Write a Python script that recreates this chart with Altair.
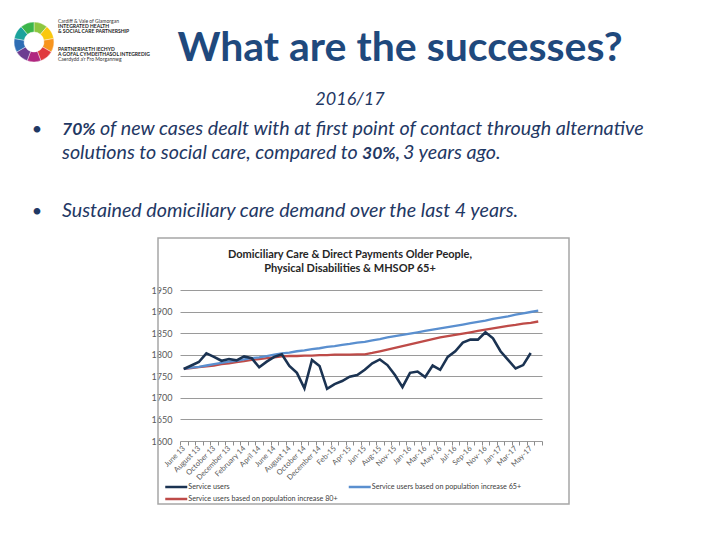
import json
import altair as alt
import pandas as pd

# ---------------- data ----------------
months = ["June 13", "July 13", "August 13", "September 13", "October 13", "November 13",
          "December 13", "January 14", "February 14", "March 14", "April 14", "May 14",
          "June 14", "July 14", "August 14", "September 14", "October 14", "November 14",
          "December 14", "Jan-15", "Feb-15", "Mar-15", "Apr-15", "May-15", "Jun-15", "Jul-15",
          "Aug-15", "Oct-15", "Nov-15", "Dec-15", "Jan-16", "Feb-16", "Mar-16", "Apr-16",
          "May-16", "Jun-16", "Jul-16", "Aug-16", "Sep-16", "Oct-16", "Nov-16", "Dec-16",
          "Jan-17", "Feb-17", "Mar-17", "Apr-17", "May-17", "Jun-17"]

service_users = [1767, 1775, 1783, 1803, 1795, 1786, 1790, 1787, 1796, 1792, 1771, 1784,
                 1795, 1801, 1774, 1758, 1722, 1788, 1774, 1721, 1732, 1739, 1749, 1753,
                 1765, 1780, 1789, 1776, 1753, 1725, 1758, 1761, 1748, 1775, 1765, 1795,
                 1808, 1828, 1835, 1835, 1852, 1838, 1808, 1788, 1768, 1776, 1804, None]

pop_65 = [1767, 1770, 1772, 1775, 1778, 1781, 1784, 1786, 1789, 1792, 1794, 1797,
          1800, 1803, 1805, 1808, 1810, 1813, 1815, 1818, 1820, 1823, 1825, 1828,
          1830, 1833, 1836, 1840, 1843, 1846, 1849, 1852, 1855, 1858, 1861, 1864,
          1867, 1870, 1873, 1876, 1879, 1883, 1886, 1889, 1893, 1896, 1899, 1902]

pop_80 = [1767, 1769, 1771, 1773, 1775, 1778, 1780, 1783, 1785, 1788, 1790, 1792,
          1794, 1796, 1797, 1797, 1798, 1798, 1799, 1799, 1800, 1800, 1800, 1801,
          1801, 1804, 1808, 1812, 1816, 1820, 1824, 1828, 1832, 1836, 1840, 1843,
          1846, 1849, 1852, 1855, 1858, 1861, 1864, 1867, 1869, 1872, 1874, 1877]

SU = "Service users"
P65 = "Service users based on population increase 65+"
P80 = "Service users based on population increase 80+"
# legend fills column by column: [SU, P80] in column 1, [P65] in column 2
legend_order = [SU, P80, P65]
legend_colors = ["#1b3352", "#be4b48", "#5a8fcf"]

logo_colors = ["#8DC63F", "#F9C80E", "#F7941D", "#E03A3E", "#B0267F",
               "#6C3D91", "#2E6DB4", "#1BA39C", "#3BB54A"]
logo_parts = [1, 1, 1, 1, 1, 1, 1, 1, 1]

rows = []
for name, vals in zip([SU, P65, P80], [service_users, pop_65, pop_80]):
    for i, (m, v) in enumerate(zip(months, vals)):
        if v is not None:
            rows.append({"idx": i, "month": m, "series": name, "value": v})
df = pd.DataFrame(rows)

logo_df = pd.DataFrame({"k": list(range(len(logo_colors))), "v": logo_parts, "c": logo_colors})
one = pd.DataFrame({"a": [0]})

# ---------------- chart ----------------
FONT = "Lato"
label_js = json.dumps(months)
label_expr = (f"(round(datum.value + 0.5) % 2 == 0 && round(datum.value + 0.5) < {len(months)}) "
              f"? {label_js}[round(datum.value + 0.5)] : ''")

x_enc = alt.X("idx:Q",
              scale=alt.Scale(domain=[-0.5, len(months) - 0.5], nice=False, zero=False),
              axis=alt.Axis(values=[i - 0.5 for i in range(len(months) + 1)],
                            labelExpr=label_expr, labelOffset=3.77, labelAngle=-45,
                            labelAlign="right", labelBaseline="middle", labelFlush=False,
                            labelOverlap=False, labelFont=FONT, labelFontSize=7.5,
                            labelColor="#595959", labelPadding=2, tickSize=4,
                            tickColor="#8c8c8c", domain=False, grid=False, title=None))
y_enc = alt.Y("value:Q",
              scale=alt.Scale(domain=[1600, 1950], nice=False, zero=False),
              axis=alt.Axis(values=list(range(1600, 1951, 50)), format="d", grid=True,
                            gridColor="#9a9a9a", gridWidth=1, domain=False, ticks=False,
                            labelPadding=8, labelFont=FONT, labelFontSize=9,
                            labelColor="#595959", title=None))
c_enc = alt.Color("series:N",
                  scale=alt.Scale(domain=legend_order, range=legend_colors),
                  legend=alt.Legend(orient="none", legendX=-10.75, legendY=190, columns=2,
                                    symbolType="M-2,0H2", symbolSize=121, symbolStrokeWidth=2.5,
                                    labelFont=FONT, labelFontSize=7.2, labelColor="#404040",
                                    labelOffset=5, rowPadding=0, columnPadding=5.5,
                                    labelLimit=400, title=None))

base = alt.Chart(df)
red = base.transform_filter(alt.datum.series == P80).mark_line(strokeWidth=2.3).encode(
    x=x_enc, y=y_enc, color=c_enc)
blue = base.transform_filter(alt.datum.series == P65).mark_line(strokeWidth=2.3).encode(
    x=x_enc, y=y_enc, color=c_enc)
dark = base.transform_filter(alt.datum.series == SU).mark_line(strokeWidth=2.6).encode(
    x=x_enc, y=y_enc, color=c_enc)


def txt(s, x, y, size, color="#1F3864", weight="normal", style="normal",
        align="left", baseline="alphabetic", font=FONT):
    return alt.Chart(one).mark_text(fontSize=size, font=font, fontWeight=weight, fontStyle=style,
                                    align=align, baseline=baseline, color=color).encode(
        x=alt.value(x), y=alt.value(y), text=alt.value(s))


# plot origin is at page (180, 290); annotations are placed relative to it
texts = [
    txt("What are the successes?", 220, -229, 41, color="#1F497D", weight="bold", align="center"),
    txt("2016/17", 170, -185, 18, style="italic", align="center"),
    txt("•", -143, -155, 18, align="center"),
    txt("70%", -118, -155, 17.5, weight="bold", style="italic"),
    txt("of new cases dealt with at first point of contact through alternative", -80, -155, 19.7,
        style="italic"),
    txt("solutions to social care, compared to", -118, -131, 19.7, style="italic"),
    txt("30%,", 182, -131, 17.5, weight="bold", style="italic"),
    txt("3 years ago.", 223, -131, 19.7, style="italic"),
    txt("•", -143, -73, 18, align="center"),
    txt("Sustained domiciliary care demand over the last 4 years.", -118, -73, 19.7,
        style="italic"),
    # chart title
    txt("Domiciliary Care & Direct Payments Older People,", 170, -35, 11, color="#262626",
        weight="bold", align="center", baseline="middle"),
    txt("Physical Disabilities & MHSOP 65+", 170, -21, 11, color="#262626",
        weight="bold", align="center", baseline="middle"),
    # logo text
    txt("Cardiff & Vale of Glamorgan", -122, -267, 5, color="#333333"),
    txt("INTEGRATED HEALTH", -122, -262, 5, color="#222222", weight="bold"),
    txt("& SOCIAL CARE PARTNERSHIP", -122, -257, 5, color="#222222", weight="bold"),
    txt("PARTNERIAETH IECHYD", -122, -239, 5, color="#222222", weight="bold"),
    txt("A GOFAL CYMDEITHASOL INTEGREDIG", -122, -234, 5, color="#222222", weight="bold"),
    txt("Caerdydd a'r Fro Morgannwg", -122, -229, 5, color="#333333"),
]

logo = alt.Chart(logo_df).mark_arc(radius=20, radius2=10, stroke="white", strokeWidth=0.4).encode(
    theta=alt.Theta("v:Q", stack=True),
    order=alt.Order("k:Q"),
    fill=alt.Fill("c:N", scale=None),
    x=alt.value(-146), y=alt.value(-248))

frame = alt.Chart(one).mark_rect(fillOpacity=0, stroke="#a6a6a6", strokeWidth=1.5).encode(
    x=alt.value(-22), x2=alt.value(389), y=alt.value(-52), y2=alt.value(214))

chart = alt.layer(frame, red, blue, dark, logo, *texts).properties(
    width=362, height=151,
    autosize=alt.AutoSizeParams(type="none"),
    padding={"left": 172, "top": 282, "right": 150, "bottom": 80},
    background="white",
).configure_view(stroke=None)

chart.save("out.html", embed_options={"renderer": "svg", "actions": False})
